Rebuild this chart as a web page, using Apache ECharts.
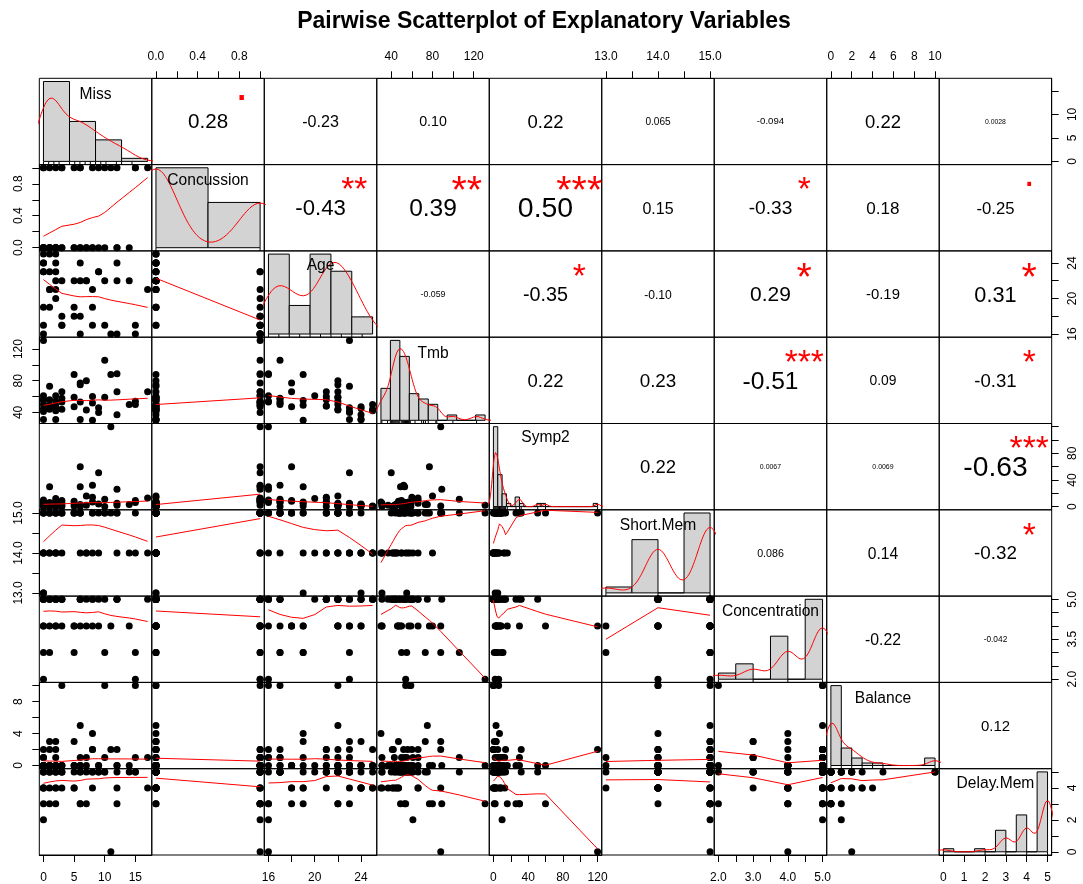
<!DOCTYPE html>
<html><head><meta charset="utf-8"><title>Pairwise Scatterplot of Explanatory Variables</title>
<script src="https://cdn.jsdelivr.net/npm/echarts@6.0.0/dist/echarts.min.js"></script>
<style>html,body{margin:0;padding:0;background:#fff;}#chart{width:1083px;height:884px;}</style>
</head><body><div id="chart"></div>
<script>
const varNames = ['Miss','Concussion','Age','Tmb','Symp2','Short.Mem','Concentration','Balance','Delay.Mem'];
const Miss          = [0,0,0,0,0,0,0,0, 1,1,1,1,1, 2,2,2,2,2,2, 3,3,3,3, 5,5,5, 6,6,6,6, 7,7, 8,8,8, 9,9, 10,10, 11, 12,12,12, 14, 15,15, 17];
const Concussion    = [0,0,0,1,0,0,0,1, 0,0,0,0,1, 0,0,0,0,0,1, 0,1,1,0, 0,0,1, 0,0,1,1, 0,0, 0,0,1, 1,0, 0,1, 1, 0,0,1, 0, 1,1, 1];
const Age           = [25,24,24,23,23,19,17,16, 25,23,21,21,19, 25,24,23,22,21,20, 22,18,17,17, 22,19,18, 24,22,18,16, 22,22, 21,19,17, 23,23, 22,17, 16, 24,22,16, 22, 17,16, 21];
const Tmb           = [50,31,45,131,41,55,57,61, 44,73,56,48,49, 42,47,31,54,48,61, 44,66,53,58, 59,88,47, 31,75,77,53, 80,43, 60,30,52, 40,46, 59,106, 88, 37,66,89, 50, 50,54, 66];
const Symp2         = [0,2,4,2,0,5,7,10, 1,3,0,6,30, 0,3,5,1,8,12, 2,9,6,0, 4,1,8, 0,3,60,30, 16,2, 14,7,32, 51,4, 0,11, 120, 2,5,26, 3, 9,6, 13];
const ShortMem      = [14,13,14,15,14,13,15,15, 14,15,14,15,15, 14,15,14,15,15,14, 15,15,15,14, 15,15,15, 14,15,15,15, 14,14, 15,14,15, 15,14, 15,15, 15, 14,15,15, 14, 15,14, 14];
const Concentration = [5,4,5,2,5,3,4,5, 5,3,5,5,4, 5,4,4,5,5,5, 5,4,5,5, 4,3,4, 5,5,4,5, 4,5, 5,4,5, 5,4, 5,3, 4, 5,5,5, 4, 3,2, 5];
const Balance       = [0,0,0,0,2,1,0,1, 0,3,2,0,0, 2,3,1,0,0,0, 0,0,0,10, 0,3,0, 0,5,0,1, 0,1, 2,4,2, 0,0, 10,1, 2, 0,2,0, 0, 1,10, 1];
const DelayMem      = [5,4,4,3,4,5,5,2, 4,5,5,5,3, 4,4,5,3,5,5, 5,4,5,5, 5,4,4, 5,5,3,3, 3,5, 5,4,5, 5,5, 5,5, 0, 4,5,3, 5, 5,5, 4];

// histogram breaks (bin edges) as shown in the diagonal panels
const breaksMiss          = [0,5,10,15,20];
const breaksConcussion    = [0,0.5,1];
const breaksAge           = [16,18,20,22,24,26];
const breaksTmb           = [30,40,50,60,70,80,90,100,110,120,130,140];
const breaksSymp2         = [0,5,10,15,20,25,30,35,40,45,50,55,60,65,70,75,80,85,90,95,100,105,110,115,120];
const breaksShortMem      = [13,13.5,14,14.5,15];
const breaksConcentration = [2,2.5,3,3.5,4,4.5,5];
const breaksBalance       = [0,1,2,3,4,5,6,7,8,9,10];
const breaksDelayMem      = [0,0.5,1,1.5,2,2.5,3,3.5,4,4.5,5];

// axis tick positions and labelled ticks (outer edge = top/bottom, side = left/right)
const ticksMiss = [0,5,10,15],            edgeLabMiss = [0,5,10,15],            sideLabMiss = [0,5,10];
const ticksConcussion = [0,0.2,0.4,0.6,0.8,1], edgeLabConcussion = [0,0.4,0.8], sideLabConcussion = [0,0.4,0.8];
const ticksAge = [16,18,20,22,24],        edgeLabAge = [16,20,24],              sideLabAge = [16,20,24];
const ticksTmb = [40,60,80,100,120],      edgeLabTmb = [40,80,120],             sideLabTmb = [40,80,120];
const ticksSymp2 = [0,20,40,60,80,100,120], edgeLabSymp2 = [0,40,80,120],       sideLabSymp2 = [0,40,80];
const ticksShortMem = [13,13.5,14,14.5,15], edgeLabShortMem = [13,14,15],       sideLabShortMem = [13,14,15];
const ticksConcentration = [2,2.5,3,3.5,4,4.5,5], edgeLabConcentration = [2,3,4,5], sideLabConcentration = [2,3.5,5];
const ticksBalance = [0,2,4,6,8,10],      edgeLabBalance = [0,2,4,6,8,10],      sideLabBalance = [0,4,8];
const ticksDelayMem = [0,1,2,3,4,5],      edgeLabDelayMem = [0,1,2,3,4,5],      sideLabDelayMem = [0,2,4];
const labelDecimals = [0,1,0,0,0,1,1,0,0];

// correlation texts (upper panels) and significance stars
const corrRow1 = ['0.28','-0.23','0.10','0.22','0.065','-0.094','0.22','0.0028'];
const corrRow2 = ['-0.43','0.39','0.50','0.15','-0.33','0.18','-0.25'];
const corrRow3 = ['-0.059','-0.35','-0.10','0.29','-0.19','0.31'];
const corrRow4 = ['0.22','0.23','-0.51','0.09','-0.31'];
const corrRow5 = ['0.22','0.0067','0.0069','-0.63'];
const corrRow6 = ['0.086','0.14','-0.32'];
const corrRow7 = ['-0.22','-0.042'];
const corrRow8 = ['0.12'];
const starRow1 = ['.','','','','','','',''];
const starRow2 = ['**','**','***','','*','','.'];
const starRow3 = ['','*','','*','','*'];
const starRow4 = ['','','***','','*'];
const starRow5 = ['','','','***'];
const starRow6 = ['','','*'];
const starRow7 = ['',''];
const starRow8 = [''];
const titleText = 'Pairwise Scatterplot of Explanatory Variables';

// ---------------- helpers ----------------
const FONT = '"Liberation Sans", Arial, Helvetica, sans-serif';
const columns = [Miss, Concussion, Age, Tmb, Symp2, ShortMem, Concentration, Balance, DelayMem];
const breaksList = [breaksMiss, breaksConcussion, breaksAge, breaksTmb, breaksSymp2, breaksShortMem, breaksConcentration, breaksBalance, breaksDelayMem];
const tickList = [ticksMiss, ticksConcussion, ticksAge, ticksTmb, ticksSymp2, ticksShortMem, ticksConcentration, ticksBalance, ticksDelayMem];
const edgeLabList = [edgeLabMiss, edgeLabConcussion, edgeLabAge, edgeLabTmb, edgeLabSymp2, edgeLabShortMem, edgeLabConcentration, edgeLabBalance, edgeLabDelayMem];
const sideLabList = [sideLabMiss, sideLabConcussion, sideLabAge, sideLabTmb, sideLabSymp2, sideLabShortMem, sideLabConcentration, sideLabBalance, sideLabDelayMem];
const corrRows = [corrRow1, corrRow2, corrRow3, corrRow4, corrRow5, corrRow6, corrRow7, corrRow8];
const starRows = [starRow1, starRow2, starRow3, starRow4, starRow5, starRow6, starRow7, starRow8];

const NV = 9;
const PANEL_LEFT = 39.3, PANEL_TOP = 78.3;
const PW = (1051.7 - PANEL_LEFT) / NV, PH = (855 - PANEL_TOP) / NV;
const STAR_SCALE = 0.85;

function extRange(v) { const mn = Math.min(...v), mx = Math.max(...v); const d = (mx - mn) * 0.04; return [mn - d, mx + d]; }
const ranges = columns.map(extRange);

const mctx = document.createElement('canvas').getContext('2d');
function measure(str, fs, weight) {
  mctx.font = (weight || 'normal') + ' ' + fs + 'px ' + FONT;
  mctx.textBaseline = 'middle';
  const m = mctx.measureText(str);
  return { w: m.width, asc: m.actualBoundingBoxAscent, desc: m.actualBoundingBoxDescent };
}
function centeredText(str, cx, cy, fs, color, weight) {
  const m = measure(str, fs, weight);
  const off = (m.desc - m.asc) / 2;
  return { type: 'text', x: cx, y: cy - off, silent: true, z: 100,
    style: { text: str, fill: color, font: (weight || 'normal') + ' ' + fs + 'px ' + FONT,
      fontSize: fs, fontFamily: FONT, fontWeight: weight || 'normal',
      textAlign: 'center', textVerticalAlign: 'middle', align: 'center', verticalAlign: 'middle' } };
}

// R's lowess (clowess port)
function lowess(xIn, yIn, f, nsteps) {
  f = f || 2/3; nsteps = (nsteps === undefined) ? 3 : nsteps;
  const n = xIn.length;
  const idx = xIn.map((_, k) => k).sort((a, b) => (xIn[a] - xIn[b]) || (a - b));
  const x = [0].concat(idx.map(k => xIn[k])), y = [0].concat(idx.map(k => yIn[k]));
  const delta = 0.01 * (x[n] - x[1]);
  const ys = new Array(n + 1).fill(0), rw = new Array(n + 1).fill(0), res = new Array(n + 1).fill(0), w = new Array(n + 2).fill(0);
  const ns = Math.max(2, Math.min(n, Math.floor(f * n + 1e-7)));
  function lowest(xs, nleft, nright, userw) {
    const range = x[n] - x[1];
    const h = Math.max(xs - x[nleft], x[nright] - xs);
    const h9 = 0.999 * h, h1 = 0.001 * h;
    let a = 0, j = nleft;
    while (j <= n) {
      w[j] = 0;
      const r = Math.abs(x[j] - xs);
      if (r <= h9) {
        if (r <= h1) w[j] = 1; else { const q = r / h; w[j] = Math.pow(1 - q * q * q, 3); }
        if (userw) w[j] *= rw[j];
        a += w[j];
      } else if (x[j] > xs) break;
      j++;
    }
    const nrt = j - 1;
    if (a <= 0) return null;
    for (j = nleft; j <= nrt; j++) w[j] /= a;
    if (h > 0) {
      a = 0; for (j = nleft; j <= nrt; j++) a += w[j] * x[j];
      let b = xs - a, c = 0;
      for (j = nleft; j <= nrt; j++) c += w[j] * (x[j] - a) * (x[j] - a);
      if (Math.sqrt(c) > 0.001 * range) { b /= c; for (j = nleft; j <= nrt; j++) w[j] *= (b * (x[j] - a) + 1); }
    }
    let s = 0; for (j = nleft; j <= nrt; j++) s += w[j] * y[j];
    return s;
  }
  let iter = 1;
  while (iter <= nsteps + 1) {
    let nleft = 1, nright = ns, last = 0, i = 1;
    for (;;) {
      if (nright < n) {
        const d1 = x[i] - x[nleft], d2 = x[nright + 1] - x[i];
        if (d1 > d2) { nleft++; nright++; continue; }
      }
      const v = lowest(x[i], nleft, nright, iter > 1);
      ys[i] = (v === null) ? y[i] : v;
      if (last < i - 1) {
        const denom = x[i] - x[last];
        for (let j = last + 1; j < i; j++) { const al = (x[j] - x[last]) / denom; ys[j] = al * ys[i] + (1 - al) * ys[last]; }
      }
      last = i;
      const cut = x[last] + delta;
      for (i = last + 1; i <= n; i++) {
        if (x[i] > cut) break;
        if (x[i] === x[last]) { ys[i] = ys[last]; last = i; }
      }
      i = Math.max(last + 1, i - 1);
      if (last >= n) break;
    }
    for (let k = 1; k <= n; k++) res[k] = y[k] - ys[k];
    let sc = 0; for (let k = 1; k <= n; k++) sc += Math.abs(res[k]); sc /= n;
    if (iter > nsteps) break;
    const ar = []; for (let k = 1; k <= n; k++) ar.push(Math.abs(res[k]));
    ar.sort((a, b) => a - b);
    const m1 = Math.floor(n / 2);
    const cmad = (n % 2 === 0) ? 3 * (ar[m1] + ar[n - m1 - 1]) : 6 * ar[m1];
    if (cmad < 1e-7 * sc) break;
    const c9 = 0.999 * cmad, c1 = 0.001 * cmad;
    for (let k = 1; k <= n; k++) {
      const r = Math.abs(res[k]);
      rw[k] = r <= c1 ? 1 : (r <= c9 ? Math.pow(1 - (r / cmad) * (r / cmad), 2) : 0);
    }
    iter++;
  }
  const out = [];
  for (let k = 1; k <= n; k++) out.push([x[k], ys[k]]);
  return out;
}

// Gaussian kernel density with bw.nrd0 (as R's density())
function kde(v) {
  const n = v.length, s = v.slice().sort((a, b) => a - b);
  const mean = v.reduce((a, b) => a + b, 0) / n;
  const sd = Math.sqrt(v.reduce((a, b) => a + (b - mean) * (b - mean), 0) / (n - 1));
  const q = p => { const h = (n - 1) * p, lo = Math.floor(h); return s[lo] + (h - lo) * (s[Math.min(lo + 1, n - 1)] - s[lo]); };
  let lo = Math.min(sd, (q(0.75) - q(0.25)) / 1.34);
  if (!lo) lo = sd || Math.abs(s[0]) || 1;
  const bw = 0.9 * lo * Math.pow(n, -0.2);
  const from = s[0] - 3 * bw, to = s[n - 1] + 3 * bw, out = [];
  for (let k = 0; k < 512; k++) {
    const xv = from + (to - from) * k / 511;
    let d = 0;
    for (const xi of v) { const z = (xv - xi) / bw; d += Math.exp(-0.5 * z * z); }
    out.push([xv, d / (n * bw * Math.sqrt(2 * Math.PI))]);
  }
  return out;
}

// histogram (right-closed bins, lowest included) as densities
function histDens(v, br) {
  const counts = new Array(br.length - 1).fill(0);
  for (const val of v) {
    for (let k = 0; k < br.length - 1; k++) {
      if ((val > br[k] || (k === 0 && val >= br[0])) && val <= br[k + 1] + 1e-9) { counts[k]++; break; }
    }
  }
  return counts.map((c, k) => [br[k], br[k + 1], c / (v.length * (br[k + 1] - br[k]))]);
}

function axisCfg(vi, g, pos, isY) {
  const r = ranges[vi];
  const base = { gridIndex: g, type: 'value', min: r[0], max: r[1], splitLine: { show: false } };
  if (!pos) { base.show = false; return base; }
  const labs = isY ? sideLabList[vi] : edgeLabList[vi];
  return Object.assign(base, {
    show: true, position: pos,
    axisLine: { show: true, onZero: false, lineStyle: { color: '#000', width: 1 } },
    axisTick: { show: true, customValues: tickList[vi], length: 7, inside: false, lineStyle: { color: '#000', width: 1 } },
    axisLabel: { show: true, customValues: labs, rotate: isY ? 90 : 0,
      margin: isY ? 15 : (pos === 'top' ? 16 : 17),
      color: '#000', fontSize: 12, fontFamily: FONT,
      formatter: val => Number(val).toFixed(labelDecimals[vi]) }
  });
}

// ---------------- build option ----------------
const grids = [], xAxes = [], yAxes = [], series = [], graphics = [];
for (let i = 0; i < NV; i++) {
  for (let j = 0; j < NV; j++) {
    const g = i * NV + j, L = PANEL_LEFT + j * PW, T = PANEL_TOP + i * PH;
    grids.push({ left: L, top: T, width: PW, height: PH, show: true, borderColor: '#000', borderWidth: 1,
      backgroundColor: 'rgba(0,0,0,0)', containLabel: false, outerBoundsMode: 'none' });
    let xPos = null, yPos = null;
    if (i === 0 && j % 2 === 1) xPos = 'top';
    if (i === NV - 1 && j % 2 === 0) xPos = 'bottom';
    if (j === 0 && i % 2 === 1) yPos = 'left';
    if (j === NV - 1 && i % 2 === 0) yPos = 'right';
    xAxes.push(axisCfg(j, g, xPos, false));
    yAxes.push(axisCfg(i, g, yPos, true));
    if (i > j) {
      series.push({ type: 'scatter', xAxisIndex: g, yAxisIndex: g, silent: true, clip: false,
        symbol: 'circle', symbolSize: 7, itemStyle: { color: '#000', opacity: 1 },
        data: columns[j].map((xv, k) => [xv, columns[i][k]]) });
      series.push({ type: 'line', xAxisIndex: g, yAxisIndex: g, silent: true, clip: false,
        showSymbol: false, symbol: 'none', lineStyle: { color: '#ff0000', width: 1 },
        data: lowess(columns[j], columns[i]) });
    } else if (i < j) {
      const txt = corrRows[i][j - i - 1], st = starRows[i][j - i - 1];
      const r = Math.abs(parseFloat(txt));
      const w1 = measure(txt, 100).w / 100;
      const cex = 0.8 * PW / w1;
      const fs = cex * (r + 0.3) / 1.3;
      graphics.push(centeredText(txt, L + PW / 2, T + PH / 2, fs, '#000'));
      if (st) graphics.push(centeredText(st, L + 0.8 * PW, T + 0.2 * PH + 1.5, cex * (st === '.' ? 1 : STAR_SCALE), '#ff0000'));
    } else {
      graphics.push(centeredText(varNames[i], L + PW / 2, T + PH * (1 - 0.8333), 15.6, '#000'));
    }
  }
}
// histogram grids on the diagonal
for (let k = 0; k < NV; k++) {
  const g = NV * NV + k, L = PANEL_LEFT + k * PW, T = PANEL_TOP + k * PH;
  const br = breaksList[k];
  const bins = histDens(columns[k], br);
  const maxD = Math.max(...bins.map(b => b[2]));
  const bspan = br[br.length - 1] - br[0];
  const yMin = -0.04 * maxD;
  grids.push({ left: L, top: T, width: PW, height: PH, show: false, containLabel: false, outerBoundsMode: 'none' });
  xAxes.push({ gridIndex: g, type: 'value', show: false, min: br[0] - 0.04 * bspan, max: br[br.length - 1] + 0.04 * bspan, splitLine: { show: false } });
  yAxes.push({ gridIndex: g, type: 'value', show: false, min: yMin, max: maxD * 1.04, splitLine: { show: false } });
  series.push({ type: 'custom', coordinateSystem: 'cartesian2d', xAxisIndex: g, yAxisIndex: g, silent: true,
    data: bins,
    renderItem: (params, api) => {
      const p0 = api.coord([api.value(0), 0]), p1 = api.coord([api.value(1), api.value(2)]);
      return { type: 'rect', shape: { x: p0[0], y: p1[1], width: p1[0] - p0[0], height: p0[1] - p1[1] },
        style: { fill: '#d3d3d3', stroke: '#000', lineWidth: 1 } };
    } });
  series.push({ type: 'line', xAxisIndex: g, yAxisIndex: g, silent: true, clip: true, showSymbol: false, symbol: 'none',
    lineStyle: { color: '#ff0000', width: 1 }, data: kde(columns[k]) });
  const uniq = Array.from(new Set(columns[k])).map(v => [v]);
  series.push({ type: 'custom', coordinateSystem: 'cartesian2d', xAxisIndex: g, yAxisIndex: g, silent: true,
    data: uniq,
    renderItem: (params, api) => {
      const p = api.coord([api.value(0), yMin]);
      return { type: 'line', shape: { x1: p[0], y1: p[1], x2: p[0], y2: p[1] - 3 }, style: { stroke: '#000', lineWidth: 1 } };
    } });
}
// title
(function () {
  const w1 = measure(titleText, 100, 'bold').w / 100;
  graphics.push(centeredText(titleText, 544, 21, 494 / w1, '#000', 'bold'));
})();

const chart = echarts.init(document.getElementById('chart'), null, { renderer: 'canvas', width: 1083, height: 884 });
chart.setOption({ animation: false, backgroundColor: '#ffffff', grid: grids, xAxis: xAxes, yAxis: yAxes, series: series, graphic: { elements: graphics } });
</script></body></html>
